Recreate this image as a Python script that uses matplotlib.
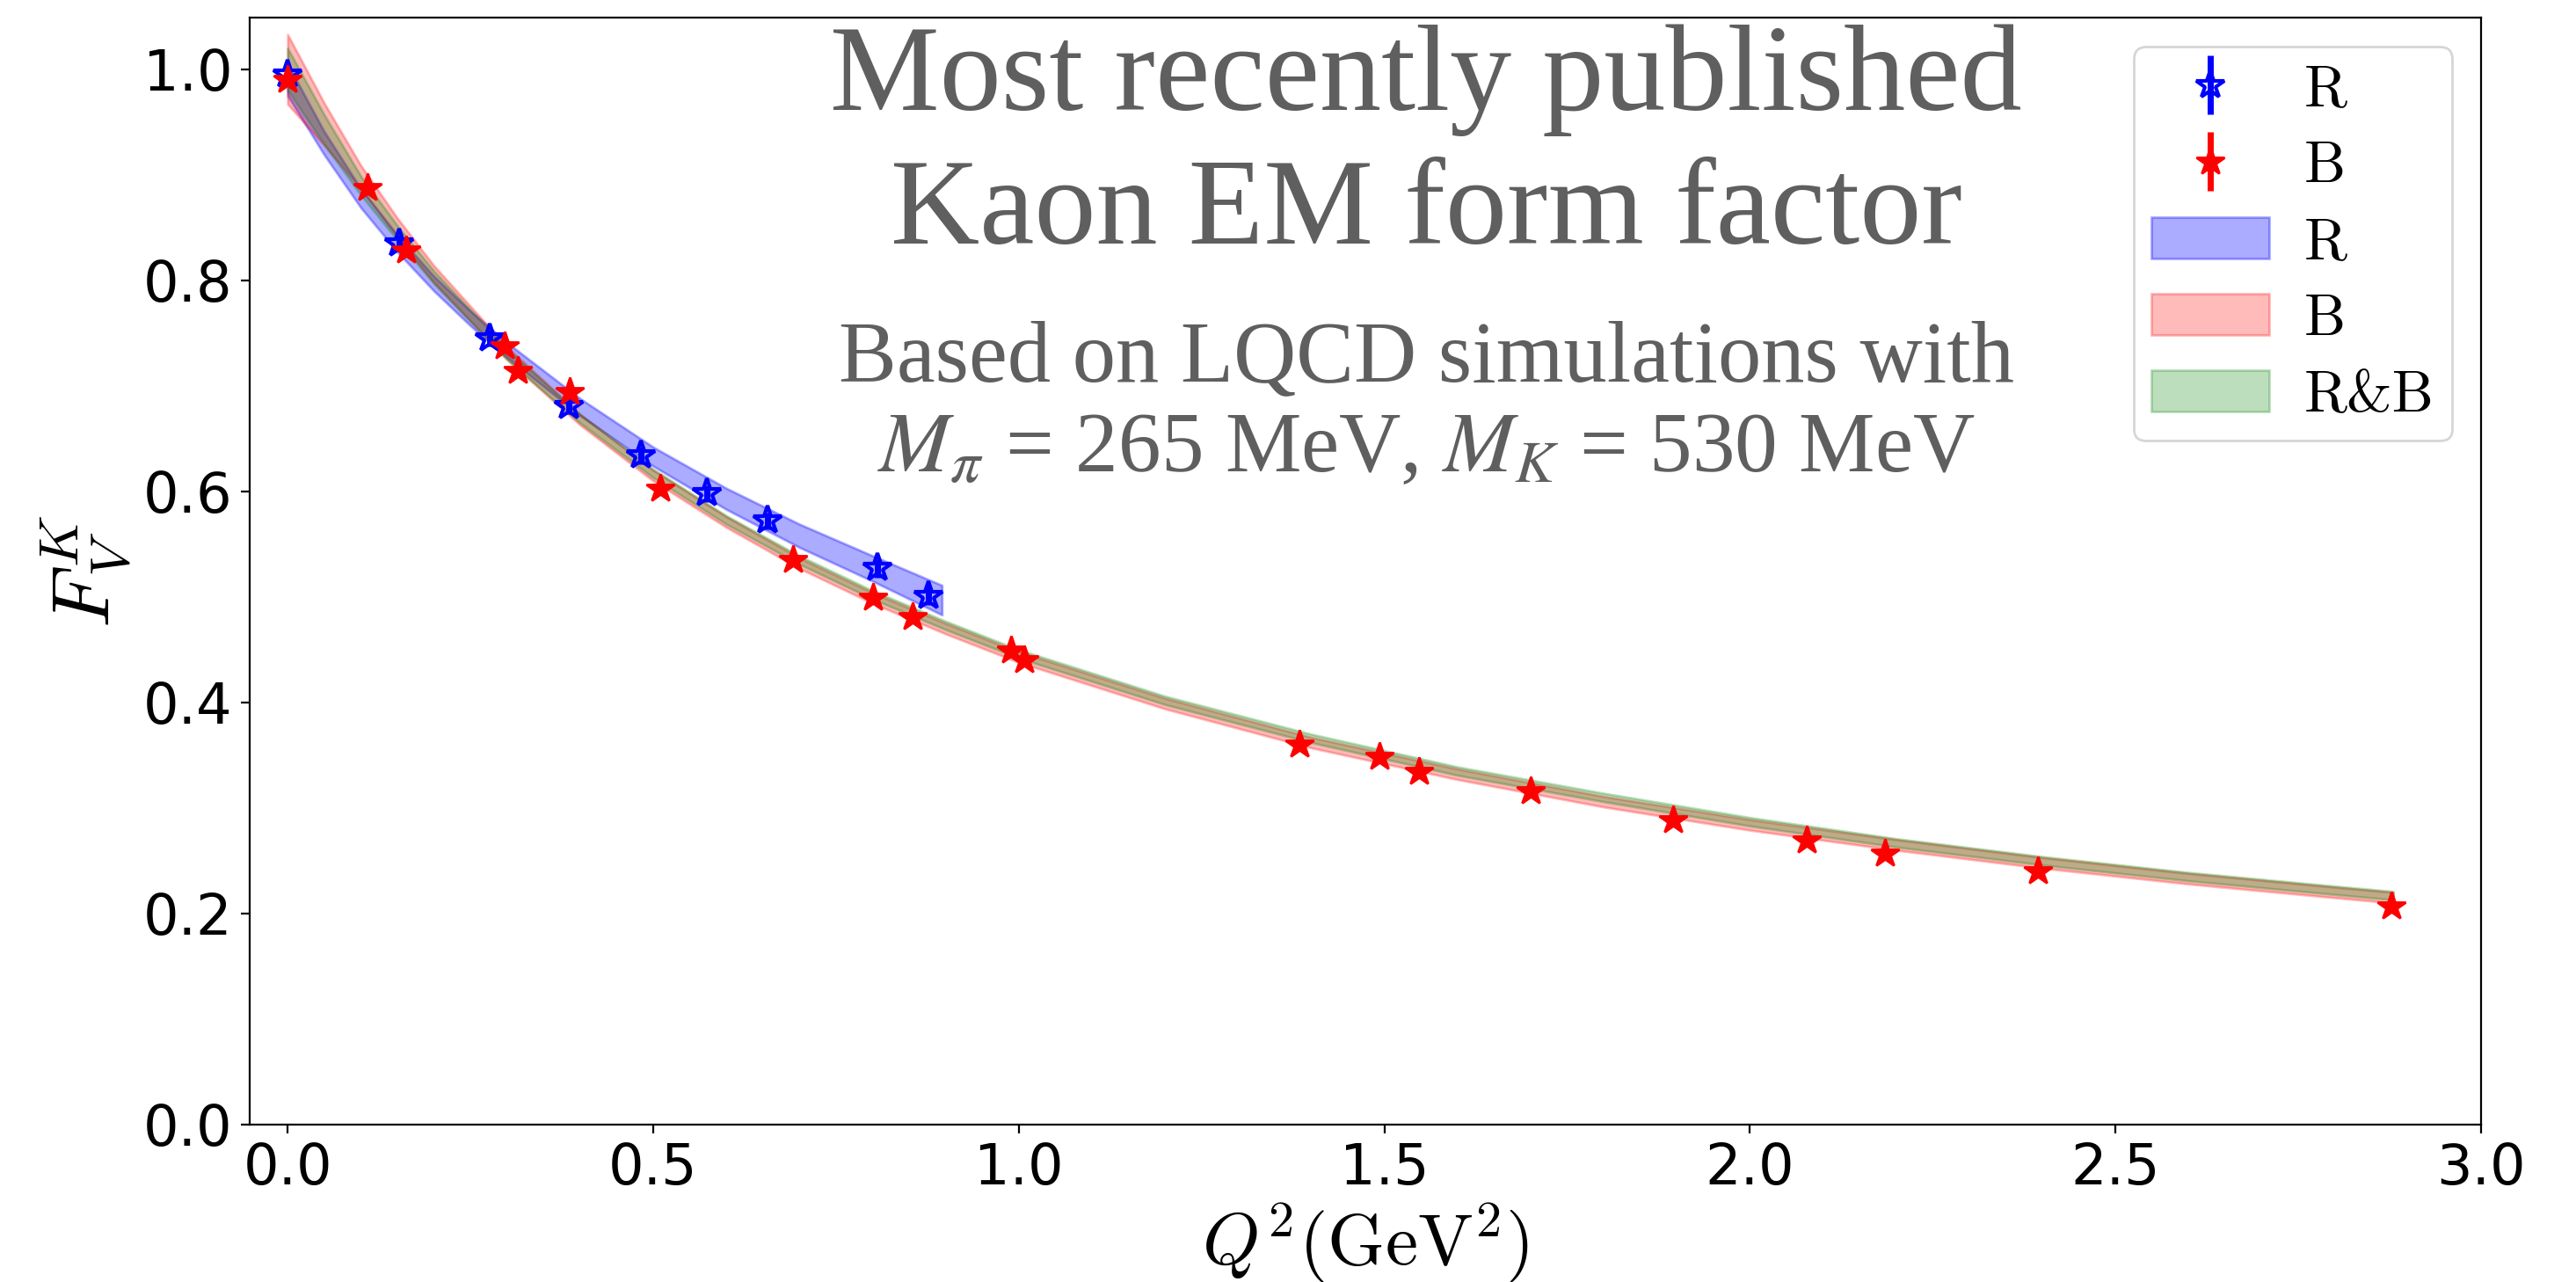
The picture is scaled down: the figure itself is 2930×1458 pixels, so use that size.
import matplotlib.pyplot as plt

plt.rcParams["mathtext.fontset"] = "cm"

# lattice points, set R
q2_r = [0.0, 0.152, 0.276, 0.385, 0.483, 0.573, 0.656, 0.807, 0.877]
ff_r = [0.995, 0.835, 0.745, 0.681, 0.634, 0.598, 0.572, 0.527, 0.501]
err_r = [0.008, 0.008, 0.008, 0.008, 0.008, 0.008, 0.008, 0.009, 0.009]

# lattice points, set B
q2_b = [0.0, 0.109, 0.162, 0.297, 0.315, 0.386, 0.510, 0.691, 0.801, 0.855,
        0.990, 1.007, 1.384, 1.493, 1.547, 1.700, 1.895, 2.078, 2.185, 2.394, 2.877]
ff_b = [0.990, 0.887, 0.828, 0.737, 0.714, 0.694, 0.602, 0.535, 0.499, 0.481,
        0.449, 0.440, 0.360, 0.348, 0.334, 0.316, 0.288, 0.269, 0.257, 0.240, 0.207]
err_b = [0.005] * len(q2_b)

# fit band for R
fit_q2_r = [0.0, 0.05, 0.1, 0.15, 0.2, 0.25, 0.3, 0.4, 0.5, 0.6, 0.7, 0.8, 0.895]
fit_r = [0.990, 0.930, 0.878, 0.835, 0.797, 0.764, 0.734, 0.680, 0.633, 0.593, 0.558, 0.527, 0.497]
fit_r_hw = [0.015, 0.011, 0.009, 0.008, 0.007, 0.007, 0.007, 0.008, 0.009, 0.010, 0.011, 0.012, 0.014]

# fit bands for B and the combined fit
fit_q2 = [0.0, 0.05, 0.1, 0.15, 0.2, 0.3, 0.4, 0.5, 0.6, 0.7, 0.8, 0.9, 1.0,
          1.2, 1.4, 1.6, 1.8, 2.0, 2.2, 2.4, 2.6, 2.8, 2.88]
fit_b = [1.000, 0.948, 0.898, 0.850, 0.806, 0.731, 0.668, 0.615, 0.571, 0.532, 0.499, 0.470, 0.443,
         0.399, 0.362, 0.332, 0.306, 0.284, 0.265, 0.248, 0.233, 0.220, 0.215]
fit_b_hw = [0.033, 0.020, 0.011, 0.009, 0.008, 0.006, 0.005, 0.005, 0.005, 0.005, 0.005, 0.005, 0.005,
            0.005, 0.005, 0.005, 0.005, 0.005, 0.005, 0.005, 0.005, 0.005, 0.005]
fit_rb = [1.000, 0.943, 0.890, 0.845, 0.803, 0.730, 0.669, 0.617, 0.573, 0.535, 0.502, 0.473, 0.446,
          0.402, 0.366, 0.335, 0.310, 0.287, 0.267, 0.250, 0.235, 0.222, 0.217]
fit_rb_hw = [0.020, 0.014, 0.009, 0.007, 0.006, 0.005, 0.004, 0.004, 0.004, 0.004, 0.004, 0.004, 0.004,
             0.004, 0.004, 0.004, 0.004, 0.004, 0.004, 0.004, 0.004, 0.004, 0.004]


def band(c, hw):
    return [a - b for a, b in zip(c, hw)], [a + b for a, b in zip(c, hw)]


fig = plt.figure(figsize=(14.65, 7.29), dpi=200)
ax = fig.add_axes([0.0969, 0.1228, 0.8662, 0.8635])

lo, hi = band(fit_r, fit_r_hw)
band_r = ax.fill_between(fit_q2_r, lo, hi, color="blue", alpha=0.33, zorder=1)
lo, hi = band(fit_b, fit_b_hw)
band_b = ax.fill_between(fit_q2, lo, hi, color="red", alpha=0.27, zorder=1)
lo, hi = band(fit_rb, fit_rb_hw)
band_rb = ax.fill_between(fit_q2, lo, hi, color="green", alpha=0.26, zorder=1)

pts_r = ax.errorbar(q2_r, ff_r, yerr=err_r, fmt="*", color="blue", mfc="none", mec="blue",
                    mew=1.5, ms=12, elinewidth=2.5, capsize=0, zorder=3)
pts_b = ax.errorbar(q2_b, ff_b, yerr=err_b, fmt="*", color="red", ms=12,
                    elinewidth=2.5, capsize=0, zorder=4)

ax.set_xlim(-0.052, 3.0)
ax.set_ylim(0, 1.049)
ax.set_xticks([0.0, 0.5, 1.0, 1.5, 2.0, 2.5, 3.0])
ax.set_yticks([0.0, 0.2, 0.4, 0.6, 0.8, 1.0])
ax.tick_params(labelsize=23)

ax.set_xlabel(r"$Q^2(\mathrm{GeV}^2)$", fontsize=30, labelpad=2)
ax.set_ylabel(r"$F_V^K$", fontsize=33)

ax.legend([pts_r, pts_b, band_r, band_b, band_rb],
          ["R", "B", "R", "B", "R&B"],
          loc="upper right", prop={"family": "cmr10", "size": 24},
          labelspacing=0.41, borderpad=0.3, handletextpad=0.6)

grey = "#5f5f5f"
cx = 0.5536
fig.text(cx, 0.9143, "Most recently published", ha="center", va="baseline",
         fontsize=50.5, color=grey, family="Liberation Serif")
fig.text(cx, 0.8100, "Kaon EM form factor", ha="center", va="baseline",
         fontsize=50.5, color=grey, family="Liberation Serif")
fig.text(cx, 0.7030, "Based on LQCD simulations with", ha="center", va="baseline",
         fontsize=35.5, color=grey, family="Liberation Serif")
fig.text(cx, 0.6324, r"$M_\pi$ = 265 MeV, $M_K$ = 530 MeV", ha="center", va="baseline",
         fontsize=35, color=grey, family="Liberation Serif", math_fontfamily="stix")

fig.savefig("out.png")
